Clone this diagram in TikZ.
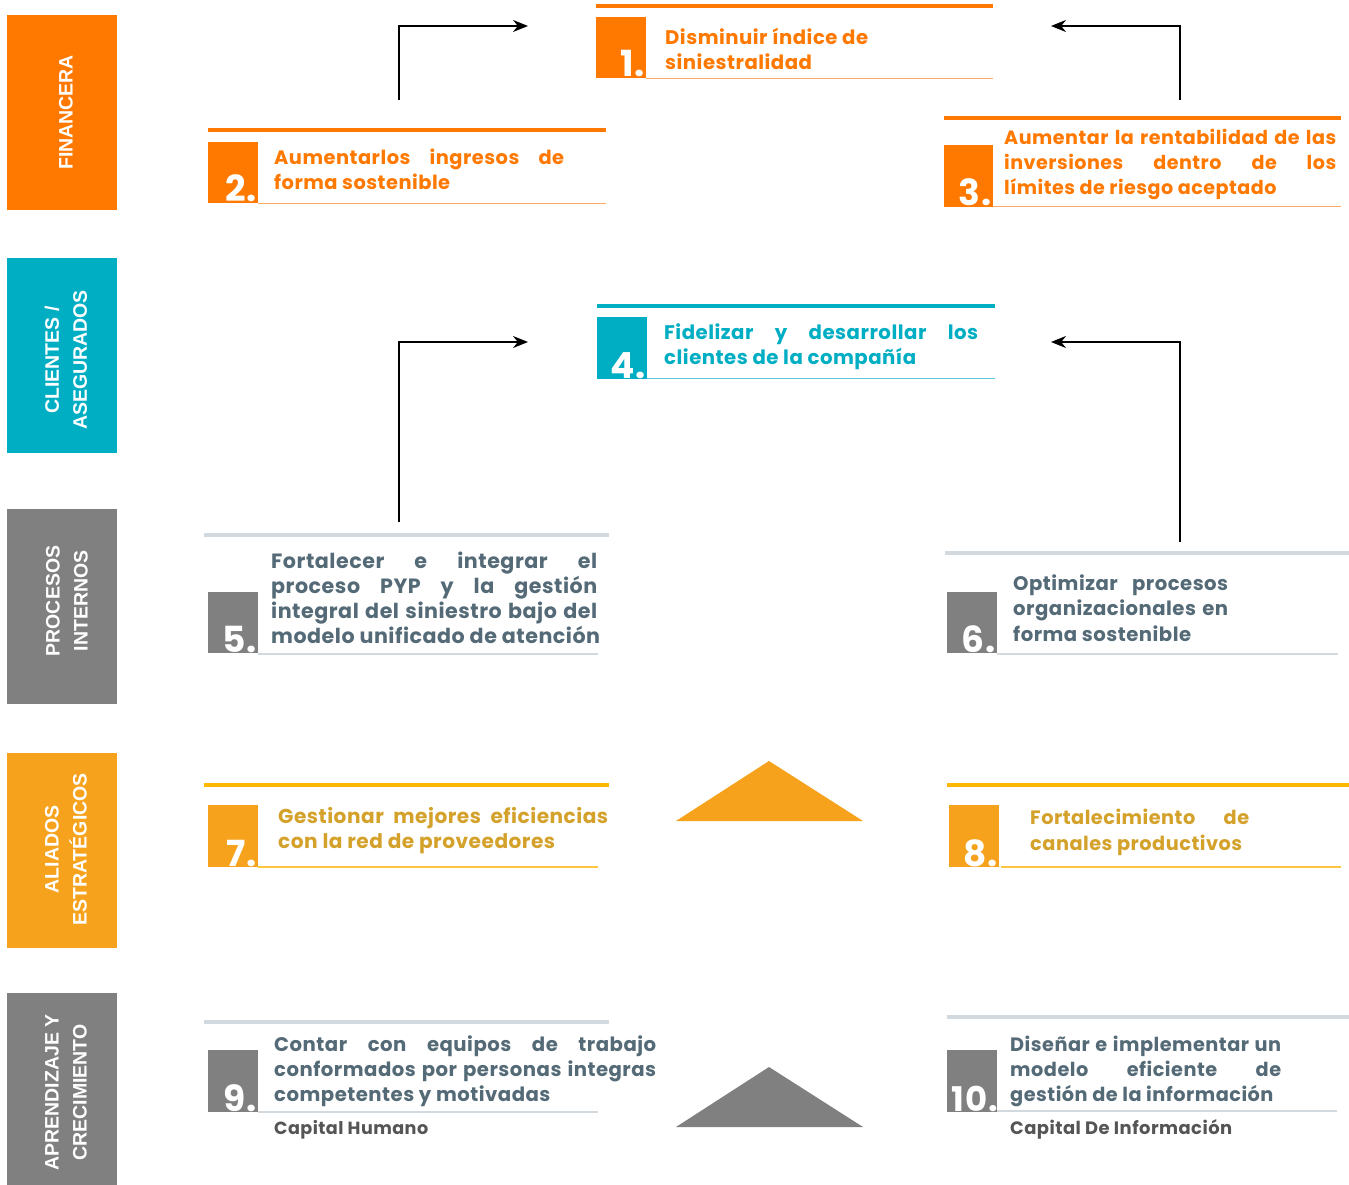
\documentclass[tikz,border=0pt]{standalone}
\usepackage{fontspec}
\usetikzlibrary{arrows.meta}
\newfontfamily\objfont{Poppins}[LetterSpace=2.5]
\newfontfamily\sidefont{Liberation Sans}
\definecolor{orng}{HTML}{FF7900}
\definecolor{orngL}{HTML}{FFAA66}
\definecolor{tealc}{HTML}{00AEC4}
\definecolor{tealL}{HTML}{5CCAD9}
\definecolor{grayb}{HTML}{808080}
\definecolor{grayt}{HTML}{546A77}
\definecolor{grayL}{HTML}{D2DADF}
\definecolor{goldb}{HTML}{F7A21C}
\definecolor{goldline}{HTML}{FFB800}
\definecolor{goldL}{HTML}{FFC63F}
\definecolor{goldt}{HTML}{D4A12B}
\definecolor{capt}{HTML}{555555}
\newlength\reflen
\newcommand\fitfont[2]{\settowidth\reflen{\objfont\bfseries\fontsize{20}{24}\selectfont #1}\pgfmathsetmacro\fitfs{20*#2/\reflen}\fontsize{\fitfs}{\fitfs}\selectfont}
% #1 width, #2 reference text, #3 target width, #4 baselineskip, #5 lines
\newcommand\objpar[5]{\vtop{\hsize=#1pt\parindent=0pt\objfont\bfseries\fitfont{#2}{#3}\baselineskip=#4pt\lineskiplimit=-100pt\lineskip=0pt #5}}
\newcommand\jl[1]{\hbox to \hsize{#1}}
\newcommand\rl[1]{\hbox{#1}}
\tikzset{
  topline/.style={line width=4pt},
  botline/.style={line width=1.6pt},
  numtxt/.style={anchor=base east, inner sep=0pt, text=white, font=\objfont\bfseries\fontsize{36}{36}\selectfont},
  objtxt/.style={anchor=base west, inner sep=0pt},
  sidebar/.style={draw=none, inner sep=0pt, minimum width=110pt},
  sidetxt/.style={rotate=90, inner sep=0pt, text=white, align=center, font=\sidefont\bfseries\fontsize{19.5}{28}\selectfont},
  conn/.style={line width=1.8pt, -{Stealth[length=15pt,width=12pt]}},
}
\begin{document}
\begin{tikzpicture}[x=1pt,y=-1pt]
\useasboundingbox (0,0) rectangle (1349,1185);
\fill[white] (0,0) rectangle (1349,1185);

% side bars
\node[sidebar, fill=orng, minimum height=195pt] (bFin) at (62,112.5) {};
\node[sidebar, fill=tealc, minimum height=195pt] (bCli) at (62,355.5) {};
\node[sidebar, fill=grayb, minimum height=195pt] (bPro) at (62,606.5) {};
\node[sidebar, fill=goldb, minimum height=195pt] (bAli) at (62,850.5) {};
\node[sidebar, fill=grayb, minimum height=192pt] (bApr) at (62,1089) {};
\node[sidetxt] (lFin) at (66,112.5) {FINANCERA};
\node[sidetxt] (lCli) at (66,360) {CLIENTES /\\ASEGURADOS};
\node[sidetxt] (lPro) at (67,601) {PROCESOS\\INTERNOS};
\node[sidetxt] (lAli) at (66,849.5) {ALIADOS\\ESTRATÉGICOS};
\node[sidetxt] (lApr) at (66,1092.5) {APRENDIZAJE Y\\CRECIMIENTO};

% box 1
\draw[topline, orng] (596,6) -- (993,6);
\fill[orng] (596,17) rectangle (646,78);
\draw[botline, orngL] (646,78.5) -- (993,78.5);
\node[numtxt] (n1) at (645,77) {1.};
\node[objtxt, text=orng] (t1) at (665,45) {\objpar{320}{Disminuir índice de}{203}{25}{\rl{Disminuir índice de}\rl{siniestralidad}}};

% box 2
\draw[topline, orng] (208,130) -- (606,130);
\fill[orng] (208,142) rectangle (258,203);
\draw[botline, orngL] (258,203.5) -- (606,203.5);
\node[numtxt] (n2) at (257,202) {2.};
\node[objtxt, text=orng] (t2) at (274,165) {\objpar{290}{forma sostenible}{176}{25}{\jl{Aumentarlos ingresos de}\rl{forma sostenible}}};

% box 3
\draw[topline, orng] (944,118) -- (1341,118);
\fill[orng] (944,145) rectangle (993,207);
\draw[botline, orngL] (993,206.5) -- (1341,206.5);
\node[numtxt] (n3) at (992,206) {3.};
\node[objtxt, text=orng] (t3) at (1004,145) {\objpar{332}{Aumentar la rentabilidad de las}{325}{25}{\jl{Aumentar la rentabilidad de las}\jl{inversiones dentro de los}\rl{límites de riesgo aceptado}}};

% box 4
\draw[topline, tealc] (597,305.5) -- (995,305.5);
\fill[tealc] (597,317) rectangle (647,379);
\draw[botline, tealL] (647,378.5) -- (995,378.5);
\node[numtxt] (n4) at (646,378) {4.};
\node[objtxt, text=tealc] (t4) at (664,339) {\objpar{314}{clientes de la compañía}{252}{25}{\jl{Fidelizar y desarrollar los}\rl{clientes de la compañía}}};

% box 5
\draw[topline, grayL] (204,535) -- (609,535);
\fill[grayb] (208,592) rectangle (258,653);
\draw[botline, grayL] (258,654) -- (598,654);
\node[numtxt] (n5) at (257,652) {5.};
\node[objtxt, text=grayt] (t5) at (271,568) {\objpar{326}{integral del siniestro bajo del}{320}{25}{\jl{Fortalecer e integrar el}\jl{proceso PYP y la gestión}\jl{integral del siniestro bajo del}\rl{modelo unificado de atención}}};

% box 6
\draw[topline, grayL] (945,553) -- (1349,553);
\fill[grayb] (947,592) rectangle (997,653);
\draw[botline, grayL] (997,654) -- (1338,654);
\node[numtxt] (n6) at (996,652) {6.};
\node[objtxt, text=grayt] (t6) at (1013,590) {\objpar{215}{forma sostenible}{178}{25.5}{\jl{Optimizar procesos}\jl{organizacionales en}\rl{forma sostenible}}};

% box 7
\draw[topline, goldline] (204,785) -- (609,785);
\fill[goldb] (208,805) rectangle (258,867);
\draw[botline, goldL] (258,867) -- (598,867);
\node[numtxt] (n7) at (257,866) {7.};
\node[objtxt, text=goldt] (t7) at (278,823) {\objpar{330}{con la red de proveedores}{277}{25}{\jl{Gestionar mejores eficiencias}\rl{con la red de proveedores}}};

% box 8
\draw[topline, goldline] (947,785) -- (1349,785);
\fill[goldb] (949,805) rectangle (999,867);
\draw[botline, goldL] (1001,867) -- (1341,867);
\node[numtxt] (n8) at (998,866) {8.};
\node[objtxt, text=goldt] (t8) at (1030,824) {\objpar{219}{canales productivos}{212}{26}{\jl{Fortalecimiento de}\rl{canales productivos}}};

% box 9
\draw[topline, grayL] (204,1022) -- (609,1022);
\fill[grayb] (208,1050) rectangle (258,1112);
\draw[botline, grayL] (258,1112) -- (598,1112);
\node[numtxt] (n9) at (257,1111) {9.};
\node[objtxt, text=grayt] (t9) at (274,1051) {\objpar{382}{conformados por personas integras}{378}{25}{\jl{Contar con equipos de trabajo}\jl{conformados por personas integras}\rl{competentes y motivadas}}};
\node[objtxt, text=capt] (c9) at (274,1134) {\objpar{200}{Capital Humano}{154}{20}{\rl{Capital Humano}}};

% box 10
\draw[topline, grayL] (947,1016.5) -- (1349,1016.5);
\fill[grayb] (947,1050) rectangle (997,1112);
\draw[botline, grayL] (997,1111) -- (1337,1111);
\node[numtxt, font=\objfont\bfseries\fontsize{34}{34}\selectfont] (n10) at (998,1111) {10.};
\node[objtxt, text=grayt] (t10) at (1010,1051) {\objpar{271}{Diseñar e implementar un}{268}{25}{\jl{Diseñar e implementar un}\jl{modelo eficiente de}\rl{gestión de la información}}};
\node[objtxt, text=capt] (c10) at (1010,1134) {\objpar{250}{Capital De Información}{222}{20}{\rl{Capital De Información}}};

% triangles
\fill[goldb] (676,821) -- (769,761) -- (863,821) -- cycle;
\fill[grayb] (676,1127) -- (769,1067) -- (863,1127) -- cycle;

% connectors
\coordinate (s2) at (399,100);
\coordinate (e1l) at (528,26);
\coordinate (s3) at (1180,100);
\coordinate (e1r) at (1051,26);
\coordinate (s5) at (399,522);
\coordinate (e4l) at (528,342);
\coordinate (s6) at (1180,542);
\coordinate (e4r) at (1051,342);
\draw[conn] (s2) |- (e1l);
\draw[conn] (s3) |- (e1r);
\draw[conn] (s5) |- (e4l);
\draw[conn] (s6) |- (e4r);
\end{tikzpicture}
\end{document}
